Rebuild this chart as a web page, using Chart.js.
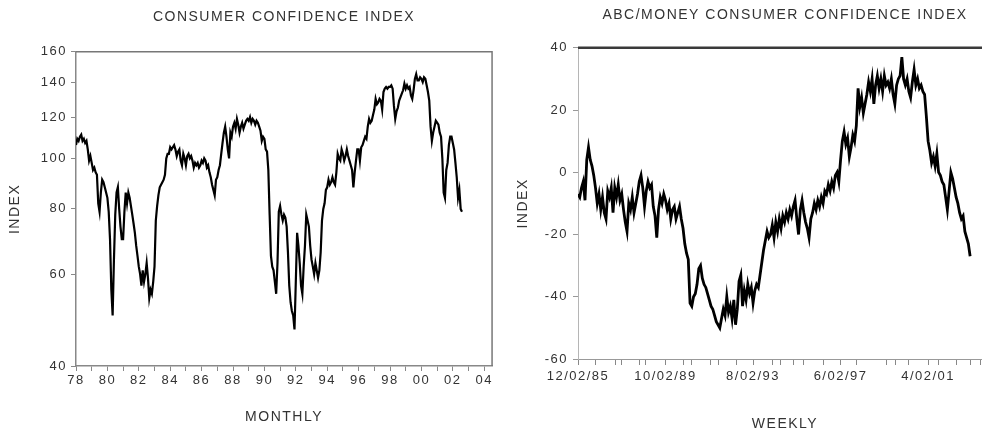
<!DOCTYPE html>
<html>
<head>
<meta charset="utf-8">
<title>Consumer confidence</title>
<script src="https://cdn.jsdelivr.net/npm/chart.js@4.4.1/dist/chart.umd.min.js"></script>
<style>
  html, body { margin: 0; padding: 0; background: #fff; overflow: hidden; }
  canvas { position: absolute; top: 0; }
  #left { left: 0; }
  #right { left: 495px; }
</style>
</head>
<body>
<canvas id="left" width="495" height="434"></canvas>
<canvas id="right" width="497" height="434"></canvas>
<script>
// Conference Board index, monthly from Jan 1978
const ccStartYear = 1978;
const ccMonthly = [
  106, 109, 108, 110, 111, 108, 109, 107, 108, 104, 99, 101,   // 1978
  98, 95, 96, 94, 93, 82, 79, 86, 91, 90, 88, 86,              // 1979
  84, 79, 70, 56, 50, 64, 78, 86, 88, 80, 74, 70,              // 1980
  70, 79, 86, 82, 86, 84, 81, 78, 75, 72, 68, 65,              // 1981
  62, 60, 57, 61, 58, 60, 63, 59, 54, 56, 55, 58,              // 1982
  62, 76, 81, 85, 88, 89, 90, 91, 93, 100, 102, 102,           // 1983
  105, 104, 105, 106, 104, 101, 103, 104, 99, 97, 102, 100,    // 1984
  97, 101, 102, 100, 101, 99, 96, 98, 97, 98, 96, 97,          // 1985
  99, 98, 100, 99, 96, 97, 94, 92, 89, 87, 85, 91,             // 1986
  92, 95, 97, 102, 107, 112, 115, 110, 104, 100, 112, 110,     // 1987
  115, 117, 114, 119, 116, 112, 115, 117, 114, 116, 118, 119,  // 1988
  118, 120, 117, 119, 118, 116, 118, 117, 115, 113, 108, 110,  // 1989
  109, 104, 103, 95, 78, 65, 62, 61, 58, 55, 63, 79,           // 1990
  81, 78, 76, 78, 77, 74, 66, 57, 53, 51, 50, 47,              // 1991
  58, 72, 68, 63, 57, 55, 62, 68, 78, 76, 74, 68,              // 1992
  64, 62, 60, 63, 61, 59, 61, 66, 76, 80, 82, 87,              // 1993
  88, 91, 89, 90, 92, 90, 89, 94, 102, 100, 99, 104,           // 1994
  102, 99, 101, 104, 101, 99, 97, 95, 88, 94, 99, 104,         // 1995
  104, 99, 105, 106, 108, 110, 109, 115, 119, 117, 118, 121,   // 1996
  124, 130, 127, 128, 130, 129, 124, 134, 136, 137, 136, 137,  // 1997
  137, 138, 136, 126, 119, 123, 125, 129, 131, 133, 135, 139,  // 1998
  136, 138, 136, 137, 132, 130, 135, 142, 145, 141, 141, 143,  // 1999
  142, 140, 143, 142, 138, 134, 129, 115, 108, 112, 115, 118,  // 2000
  117, 116, 112, 110, 100, 86, 84, 95, 98, 106, 110, 110,      // 2001
  107, 104, 98, 92, 84, 87, 80, 79                             // 2002
];
const ccLabelYears = [1978, 1980, 1982, 1984, 1986, 1988, 1990, 1992, 1994, 1996, 1998, 2000, 2002, 2004];
const ccTickLabels = ['78', '80', '82', '84', '86', '88', '90', '92', '94', '96', '98', '00', '02', '04'];
const ccIndexTicks = [40, 60, 80, 100, 120, 140, 160];

// ABC/Money index, one reading every 4 weeks from 12/02/85
const abcStepWeeks = 4;
const abcValues = [
  -7, -8, -5, -3, -9, 4, 8, 4, 2, -1, -5, -10, -7,
  -12, -8, -13, -15, -6, -8, -5, -13, -5, -8, -4, -9, -7,
  -12, -16, -19, -10, -12, -8, -13, -10, -7, -3, -1, -5, -11,
  -6, -3, -5, -4, -11, -14, -21, -12, -8, -10, -7, -9, -12,
  -10, -15, -12, -11, -15, -13, -11, -15, -18, -23, -26, -28, -42,
  -43, -40, -39, -36, -31, -30, -34, -36, -37, -39, -41, -43, -44,
  -46, -48, -49, -50, -47, -44, -46, -40, -45, -43, -47, -41, -49,
  -44, -35, -33, -43, -38, -41, -36, -39, -37, -42, -38, -36, -37,
  -33, -29, -25, -22, -19, -21, -20, -17, -21, -16, -19, -15, -18,
  -14, -16, -13, -15, -12, -14, -11, -9, -15, -20, -12, -9, -13,
  -16, -18, -21, -15, -13, -10, -12, -9, -11, -8, -10, -6, -7,
  -4, -6, -3, -5, -1, 0, -3, 4, 10, 13, 9, 11, 5,
  8, 12, 10, 15, 27, 21, 24, 19, 22, 25, 29, 26, 30,
  22, 28, 31, 27, 30, 26, 31, 28, 29, 27, 30, 25, 22,
  28, 30, 31, 37, 30, 28, 30, 26, 24, 29, 33, 28, 30,
  27, 28, 26, 25, 18, 10, 7, 3, 5, 2, 6, 0, -1,
  -3, -4, -8, -12, -6, 0, -2, -5, -8, -10, -13, -15, -14,
  -19, -21, -23, -27
];
const abcLabelWeeks = [0, 200, 400, 600, 800];
const abcDateLabels = ['12/02/85', '10/02/89', '8/02/93', '6/02/97', '4/02/01'];
const abcTickWeeks = [0, 41, 85, 100, 140, 155, 200, 241, 260, 302, 321, 363, 400, 445, 462, 492, 515, 561, 600, 637, 706, 725, 755, 800, 824, 866, 896, 919];
const abcIndexTicks = [-60, -40, -20, 0, 20, 40];

Chart.defaults.font.family = '"Liberation Sans", Arial, sans-serif';
Chart.defaults.color = '#333';

// the old print has loosely spaced lettering
const spacing = {
  id: 'spacing',
  beforeLayout(chart) { chart.ctx.letterSpacing = '1.5px'; },
  beforeDraw(chart) { chart.ctx.letterSpacing = '1.5px'; }
};

// top (and optionally right) edge of the plot box
const frame = {
  id: 'frame',
  afterDatasetsDraw(chart, args, opts) {
    const { ctx, chartArea: a } = chart;
    ctx.save();
    ctx.strokeStyle = opts.color;
    ctx.lineWidth = opts.width;
    ctx.beginPath();
    ctx.moveTo(a.left, a.top);
    ctx.lineTo(a.right, a.top);
    if (opts.right) ctx.lineTo(a.right, a.bottom);
    ctx.stroke();
    ctx.restore();
  }
};

const tickFont = { size: 13 };
const titleFont = { size: 14, weight: 'normal' };

new Chart(document.getElementById('left'), {
  type: 'line',
  data: {
    datasets: [{
      data: ccMonthly.map((v, i) => ({ x: ccStartYear + i / 12, y: v })),
      borderColor: '#000',
      borderWidth: 2.2,
      pointRadius: 0,
      tension: 0
    }]
  },
  options: {
    responsive: false,
    animation: false,
    events: [],
    layout: { padding: { left: 0, right: 2, top: 0, bottom: 0 } },
    plugins: {
      legend: { display: false },
      tooltip: { enabled: false },
      title: {
        display: true,
        text: 'CONSUMER CONFIDENCE INDEX',
        fullSize: false,
        color: '#333',
        font: titleFont,
        padding: { top: 9, bottom: 26 }
      },
      frame: { color: '#777', width: 1.5, right: true }
    },
    scales: {
      x: {
        type: 'linear',
        min: 1978,
        max: 2004.5,
        afterFit: s => { s.height = 68; },
        afterBuildTicks: s => {
          const t = [];
          for (let y = 1978; y <= 2004; y++) t.push({ value: y });
          s.ticks = t;
        },
        ticks: {
          autoSkip: false,
          maxRotation: 0,
          padding: 2,
          font: tickFont,
          callback: v => {
            const k = ccLabelYears.indexOf(v);
            return k >= 0 ? ccTickLabels[k] : '';
          }
        },
        grid: { drawOnChartArea: false, tickLength: 5, color: '#888' },
        border: { color: '#888', width: 1.5 },
        title: { display: true, text: 'MONTHLY', font: titleFont, padding: { top: 0, bottom: 8 } }
      },
      y: {
        type: 'logarithmic',
        min: 40,
        max: 160,
        afterFit: s => { s.width = 76; },
        afterBuildTicks: s => { s.ticks = ccIndexTicks.map(v => ({ value: v })); },
        ticks: { padding: 4, font: tickFont, callback: v => String(v) },
        grid: { drawOnChartArea: false, tickLength: 5, color: '#888' },
        border: { color: '#888', width: 1.5 },
        title: { display: true, text: 'INDEX', font: titleFont, padding: { top: 7, bottom: 0 } }
      }
    }
  },
  plugins: [spacing, frame]
});

new Chart(document.getElementById('right'), {
  type: 'line',
  data: {
    datasets: [{
      data: abcValues.map((v, i) => ({ x: i * abcStepWeeks, y: v })),
      borderColor: '#000',
      borderWidth: 2.8,
      pointRadius: 0,
      tension: 0
    }]
  },
  options: {
    responsive: false,
    animation: false,
    events: [],
    layout: { padding: { left: 0, right: 0, top: 0, bottom: 0 } },
    plugins: {
      legend: { display: false },
      tooltip: { enabled: false },
      title: {
        display: true,
        text: 'ABC/MONEY CONSUMER CONFIDENCE INDEX',
        fullSize: false,
        color: '#333',
        font: titleFont,
        padding: { top: 7, bottom: 24 }
      },
      frame: { color: '#3a3a3a', width: 2.5, right: false }
    },
    scales: {
      x: {
        type: 'linear',
        min: 0,
        max: 946,
        afterFit: s => { s.height = 75; },
        afterBuildTicks: s => { s.ticks = abcTickWeeks.map(w => ({ value: w })); },
        ticks: {
          autoSkip: false,
          maxRotation: 0,
          padding: 4,
          font: tickFont,
          callback: v => {
            const k = abcLabelWeeks.indexOf(v);
            return k >= 0 ? abcDateLabels[k] : '';
          }
        },
        grid: { drawOnChartArea: false, tickLength: 6, color: '#888' },
        border: { color: '#999', width: 1 },
        title: { display: true, text: 'WEEKLY', font: titleFont, padding: { top: 0, bottom: 1 } }
      },
      y: {
        type: 'linear',
        min: -60,
        max: 40,
        afterFit: s => { s.width = 83; },
        afterBuildTicks: s => { s.ticks = abcIndexTicks.map(v => ({ value: v })); },
        ticks: { padding: 5, font: tickFont, callback: v => String(v) },
        grid: { drawOnChartArea: false, tickLength: 5, color: '#999' },
        border: { color: '#b5b5b5', width: 1 },
        title: { display: true, text: 'INDEX', font: titleFont, padding: { top: 20, bottom: 0 } }
      }
    }
  },
  plugins: [spacing, frame]
});
</script>
</body>
</html>
